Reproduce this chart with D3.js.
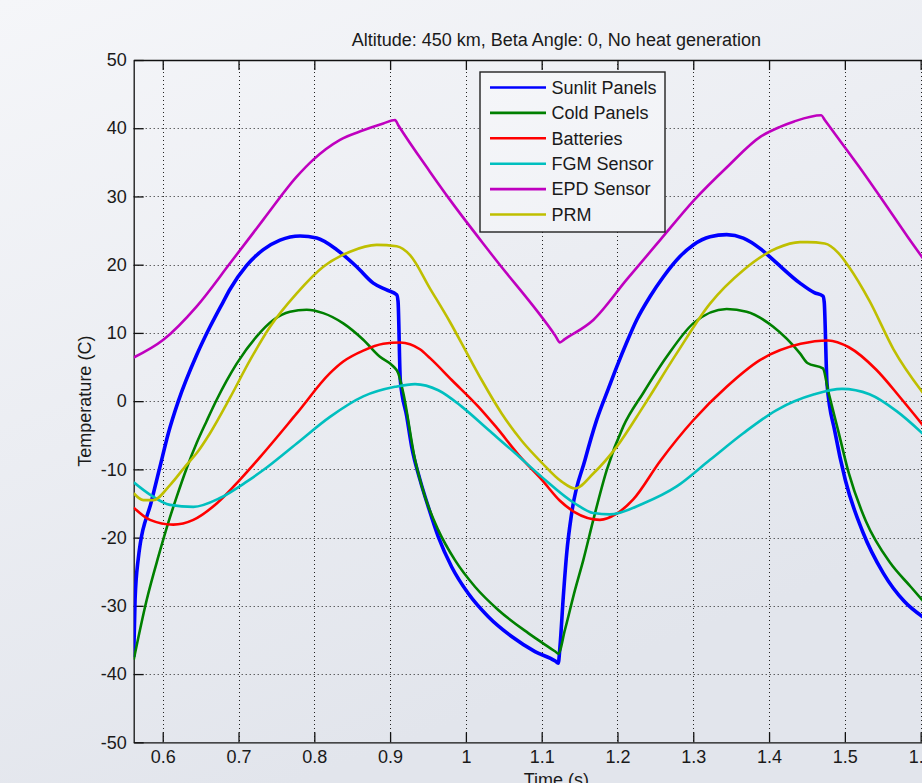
<!DOCTYPE html>
<html>
<head>
<meta charset="utf-8">
<script src="https://cdn.jsdelivr.net/npm/d3@7"></script>
<style>
    html, body { margin: 0; padding: 0; overflow: hidden; }
    svg { display: block; font-family: "Liberation Sans", Arial, sans-serif; }
</style>
</head>
<body>
<svg id="chart" width="922" height="783"></svg>
<script>
// time (s), temperature (C)
const sunlitPanels = [
    [0.5617, -37.5], [0.5635, -29.1], [0.5675, -23.3], [0.5855, -14.5], [0.5964, -9.6], [0.6074, -4.7],
    [0.6206, 0.0], [0.6449, 6.8], [0.6624, 10.9], [0.68, 14.6], [0.6888, 16.4], [0.7108, 19.9],
    [0.7327, 22.2], [0.7548, 23.6], [0.7812, 24.2], [0.8032, 23.9], [0.8296, 22.2], [0.8559, 19.7],
    [0.8778, 17.3], [0.8955, 16.3], [0.9087, 15.6], [0.9105, 14.6], [0.9135, 3.0], [0.9219, -2.2],
    [0.9285, -6.7], [0.9394, -11.5], [0.9504, -15.5], [0.9636, -19.9], [0.9813, -24.3], [1.0032, -28.2],
    [1.0296, -31.6], [1.0604, -34.5], [1.0912, -36.7], [1.118, -38.1], [1.1219, -38.4], [1.1241, -36.0],
    [1.1285, -28.7], [1.133, -22.3], [1.1396, -16.4], [1.1572, -8.6], [1.1726, -2.75], [1.1879, 1.8],
    [1.1989, 5.0], [1.2121, 8.6], [1.2253, 11.9], [1.2428, 15.3], [1.2604, 18.2], [1.2824, 21.2],
    [1.30, 22.9], [1.3221, 24.1], [1.3441, 24.4], [1.366, 23.9], [1.3879, 22.4], [1.4055, 20.7],
    [1.4408, 17.3], [1.4597, 15.9], [1.4711, 15.4], [1.4728, 14.5], [1.4765, 2.5], [1.4869, -4.5],
    [1.5007, -11.6], [1.5234, -19.1], [1.5507, -25.2], [1.578, -29.3], [1.6051, -31.8]
];
const coldPanels = [
    [0.5617, -37.9], [0.5789, -29.1], [0.5942, -22.8], [0.6096, -17.0], [0.6185, -14.0], [0.6317, -9.8],
    [0.6449, -6.1], [0.658, -2.9], [0.6712, 0.2], [0.6844, 3.0], [0.6976, 5.5], [0.724, 9.5],
    [0.7459, 11.9], [0.7679, 13.1], [0.7899, 13.4], [0.8118, 12.9], [0.8382, 11.4], [0.8646, 9.0],
    [0.8866, 6.5], [0.9042, 5.1], [0.9108, 4.1], [0.9174, 1.2], [0.9329, -8.6], [0.946, -14.0],
    [0.9636, -18.9], [0.9856, -23.3], [1.012, -27.2], [1.0427, -30.6], [1.0823, -34.0], [1.118, -36.7],
    [1.1219, -37.0], [1.1307, -33.5], [1.1439, -27.7], [1.1549, -23.3], [1.1681, -17.4], [1.1858, -10.1],
    [1.2077, -3.7], [1.234, 1.2], [1.2649, 6.5], [1.30, 11.4], [1.3441, 13.5], [1.3704, 13.1],
    [1.4055, 10.9], [1.4408, 7.0], [1.4506, 5.6], [1.4711, 4.8], [1.478, 1.5], [1.4916, -4.5],
    [1.5053, -10.6], [1.5278, -17.6], [1.5598, -23.7], [1.5869, -27.2], [1.6079, -29.9]
];
const batteries = [
    [0.5617, -15.6], [0.5832, -17.4], [0.614, -18.1], [0.6404, -17.4], [0.6712, -15.0], [0.702, -11.5],
    [0.7284, -8.2], [0.7768, -1.8], [0.8207, 4.1], [0.8382, 5.8], [0.8646, 7.4], [0.891, 8.4],
    [0.9131, 8.6], [0.9394, 7.6], [0.9527, 6.3], [0.9813, 3.1], [1.0164, -0.8], [1.0384, -3.6],
    [1.0736, -8.4], [1.1, -11.5], [1.1241, -14.6], [1.1439, -16.3], [1.1769, -17.4], [1.1989, -16.5],
    [1.2208, -14.4], [1.2562, -8.8], [1.30, -2.8], [1.3441, 2.1], [1.3879, 6.0], [1.4417, 8.4],
    [1.478, 8.9], [1.5053, 7.9], [1.5415, 4.6], [1.5733, 0.5], [1.6079, -4.2]
];
const fgmSensor = [
    [0.5617, -11.9], [0.5832, -13.7], [0.6096, -15.2], [0.6404, -15.5], [0.6756, -14.2], [0.7108, -11.8],
    [0.7327, -10.1], [0.7768, -6.2], [0.8207, -2.3], [0.8646, 0.7], [0.9065, 2.1], [0.9329, 2.5],
    [0.9636, 1.6], [0.9945, -0.8], [1.0296, -4.2], [1.0648, -7.6], [1.1, -11.1], [1.1439, -15.0],
    [1.1681, -16.4], [1.19, -16.6], [1.234, -15.0], [1.2781, -12.5], [1.3221, -8.6], [1.366, -4.7],
    [1.41, -1.3], [1.4597, 1.0], [1.4962, 1.8], [1.5325, 1.0], [1.5687, -1.5], [1.6079, -5.3]
];
const epdSensor = [
    [0.5617, 6.4], [0.6008, 9.0], [0.6449, 13.9], [0.6888, 20.2], [0.7327, 26.6], [0.7768, 32.9],
    [0.7987, 35.4], [0.8339, 38.3], [0.8646, 39.7], [0.891, 40.7], [0.9065, 41.2], [0.911, 40.4],
    [0.9527, 33.6], [0.979, 29.5], [1.0361, 21.2], [1.118, 9.6], [1.1241, 8.6], [1.13, 9.05],
    [1.1681, 11.9], [1.2121, 17.8], [1.2562, 23.6], [1.3014, 29.5], [1.3454, 34.4], [1.3893, 38.8],
    [1.4144, 40.2], [1.4332, 41.0], [1.4689, 41.9], [1.4735, 41.2], [1.5053, 36.4], [1.5212, 34.0],
    [1.5507, 29.3], [1.5828, 24.1], [1.6079, 20.2]
];
const prm = [
    [0.5617, -13.5], [0.5744, -14.5], [0.5876, -14.5], [0.6096, -12.3], [0.6317, -9.3], [0.6449, -7.6],
    [0.6624, -4.7], [0.6888, 0.5], [0.7152, 6.0], [0.7416, 10.9], [0.7768, 15.8], [0.8119, 19.7],
    [0.8471, 21.9], [0.8823, 22.9], [0.9087, 22.7], [0.9263, 21.4], [0.9527, 16.5], [0.979, 11.6],
    [1.0054, 6.2], [1.0208, 3.1], [1.0472, -1.8], [1.0736, -5.8], [1.1, -9.0], [1.1264, -11.8],
    [1.1439, -12.8], [1.1681, -10.6], [1.1989, -6.7], [1.234, -0.8], [1.2781, 7.0], [1.3221, 14.3],
    [1.366, 19.2], [1.41, 22.4], [1.4408, 23.3], [1.4506, 23.3], [1.4735, 23.1], [1.4916, 21.7],
    [1.5053, 19.7], [1.5325, 14.7], [1.5642, 7.6], [1.6079, 0.5]
];

const seriesNames = ["Sunlit Panels", "Cold Panels", "Batteries", "FGM Sensor", "EPD Sensor", "PRM"];
const seriesData = [sunlitPanels, coldPanels, batteries, fgmSensor, epdSensor, prm];
const seriesColors = ["#0000ff", "#008000", "#ff0000", "#00bfbf", "#bf00bf", "#bfbf00"];

const xTicks = [0.6, 0.7, 0.8, 0.9, 1, 1.1, 1.2, 1.3, 1.4, 1.5, 1.6];
const yTicks = [-50, -40, -30, -20, -10, 0, 10, 20, 30, 40, 50];
const xDomain = [0.5617, 1.677];
const yDomain = [-50, 50];

const titleText = "Altitude: 450 km, Beta Angle: 0, No heat generation";
const xLabel = "Time (s)";
const yLabel = "Temperature (C)";

// plot box (right side runs past the window)
const box = { left: 133.7, right: 979, top: 60, bottom: 742.3 };
const fontSize = 18;
const textColor = "#1a1a1a";

const svg = d3.select("#chart");

// background gradient, shared with the legend box
const defs = svg.append("defs");
const grad = defs.append("linearGradient")
    .attr("id", "bg")
    .attr("gradientUnits", "userSpaceOnUse")
    .attr("x1", 0).attr("y1", 0).attr("x2", 300).attr("y2", 783);
grad.append("stop").attr("offset", 0).attr("stop-color", "#f5f6f9");
grad.append("stop").attr("offset", 1).attr("stop-color", "#e2e5ec");

defs.append("clipPath").attr("id", "plotClip")
    .append("rect")
    .attr("x", box.left).attr("y", box.top)
    .attr("width", box.right - box.left).attr("height", box.bottom - box.top);

svg.append("rect").attr("width", 922).attr("height", 783).attr("fill", "url(#bg)");

const x = d3.scaleLinear().domain(xDomain).range([box.left, box.right]);
const y = d3.scaleLinear().domain(yDomain).range([box.bottom, box.top]);

// dotted grid
const grid = svg.append("g")
    .attr("stroke", "#222")
    .attr("stroke-width", 1)
    .attr("stroke-dasharray", "1,3");

grid.selectAll(".vgrid")
    .data(xTicks)
    .join("line")
    .attr("class", "vgrid")
    .attr("x1", d => Math.round(x(d)) + 0.5).attr("x2", d => Math.round(x(d)) + 0.5)
    .attr("y1", box.top).attr("y2", box.bottom);

grid.selectAll(".hgrid")
    .data(yTicks.filter(d => d > yDomain[0] && d < yDomain[1]))
    .join("line")
    .attr("class", "hgrid")
    .attr("y1", d => Math.round(y(d)) + 0.5).attr("y2", d => Math.round(y(d)) + 0.5)
    .attr("x1", box.left).attr("x2", box.right);

// axes with inward ticks
function styleAxis(g) {
    g.select(".domain").attr("stroke", "#111").attr("stroke-width", 1.3);
    g.selectAll(".tick line").attr("stroke", "#111").attr("stroke-width", 1.3);
    g.selectAll(".tick text")
        .attr("fill", textColor)
        .style("font-size", fontSize + "px")
        .style("font-family", "\"Liberation Sans\", Arial, sans-serif");
}

svg.append("g")
    .attr("transform", `translate(0,${box.bottom})`)
    .call(d3.axisBottom(x).tickValues(xTicks).tickFormat(d => String(d))
        .tickSizeInner(-10).tickSizeOuter(0).tickPadding(8))
    .call(styleAxis);

svg.append("g")
    .attr("transform", `translate(0,${box.top})`)
    .call(d3.axisTop(x).tickValues(xTicks).tickFormat("")
        .tickSizeInner(-10).tickSizeOuter(0))
    .call(styleAxis);

svg.append("g")
    .attr("transform", `translate(${box.left},0)`)
    .call(d3.axisLeft(y).tickValues(yTicks).tickFormat(d => String(d))
        .tickSizeInner(-10).tickSizeOuter(0).tickPadding(7))
    .call(styleAxis);

// series lines, drawn in order so PRM ends on top
const line = d3.line()
    .x(d => x(d[0]))
    .y(d => y(d[1]))
    .curve(d3.curveMonotoneX);

svg.append("g")
    .attr("clip-path", "url(#plotClip)")
    .selectAll("path")
    .data(seriesData)
    .join("path")
    .attr("fill", "none")
    .attr("stroke", (d, i) => seriesColors[i])
    .attr("stroke-width", (d, i) => i === 0 ? 3.6 : 2.6)
    .attr("stroke-linejoin", "round")
    .attr("d", line);

// legend
const legend = svg.append("g").attr("transform", "translate(480,72)");
legend.append("rect")
    .attr("width", 185).attr("height", 160)
    .attr("fill", "url(#bg)")
    .attr("stroke", "#222").attr("stroke-width", 1.4);

const rows = legend.selectAll(".row")
    .data(seriesNames)
    .join("g")
    .attr("class", "row")
    .attr("transform", (d, i) => `translate(0,${15.5 + i * 25.4})`);

rows.append("line")
    .attr("x1", 10).attr("x2", 66)
    .attr("stroke", (d, i) => seriesColors[i])
    .attr("stroke-width", 2.6);

rows.append("text")
    .attr("x", 71.5)
    .attr("dy", "0.35em")
    .attr("fill", textColor)
    .style("font-size", fontSize + "px")
    .text(d => d);

// title and axis labels
svg.append("text")
    .attr("x", (box.left + box.right) / 2)
    .attr("y", 46)
    .attr("text-anchor", "middle")
    .attr("fill", textColor)
    .style("font-size", fontSize + "px")
    .text(titleText);

svg.append("text")
    .attr("x", (box.left + box.right) / 2)
    .attr("y", 786)
    .attr("text-anchor", "middle")
    .attr("fill", textColor)
    .style("font-size", fontSize + "px")
    .text(xLabel);

svg.append("text")
    .attr("transform", `translate(91,${(box.top + box.bottom) / 2}) rotate(-90)`)
    .attr("text-anchor", "middle")
    .attr("fill", textColor)
    .style("font-size", fontSize + "px")
    .text(yLabel);
</script>
</body>
</html>
